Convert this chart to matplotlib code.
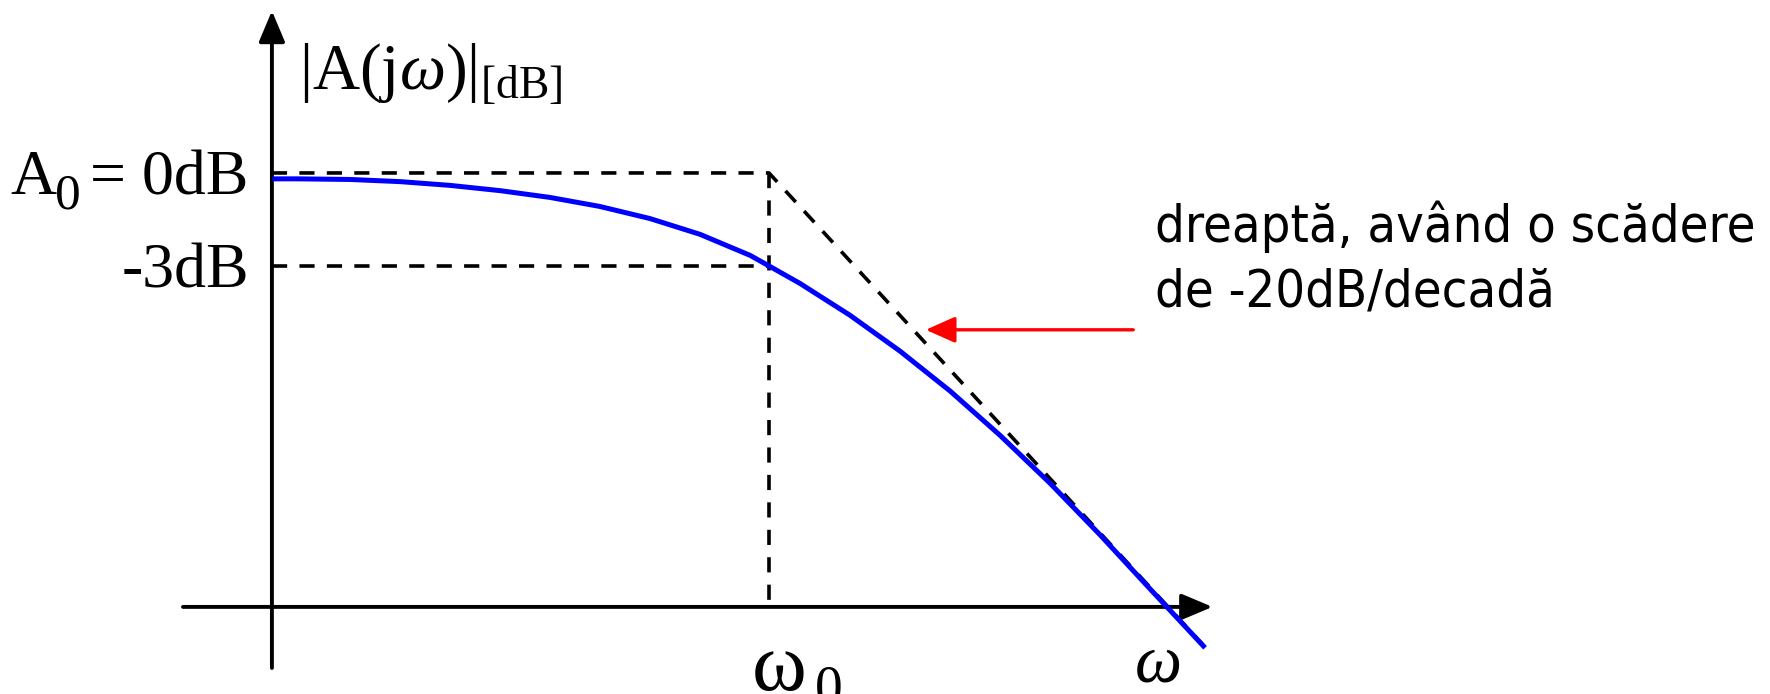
import matplotlib
matplotlib.use("Agg")
import matplotlib.pyplot as plt

# Frequency axis: log10(omega / omega0); vertical axis: gain in dB
omega_dec = [-0.871, -0.825, -0.735, -0.647, -0.560, -0.472, -0.384, -0.297,
             -0.209, -0.121, -0.033, 0.0, 0.054, 0.142, 0.230, 0.318,
             0.405, 0.493, 0.581, 0.668, 0.765]
gain_db = [-0.19, -0.19, -0.21, -0.28, -0.40, -0.57, -0.79, -1.08,
           -1.47, -1.98, -2.66, -3.0, -3.56, -4.59, -5.75, -7.04,
           -8.46, -10.01, -11.68, -13.41, -15.32]

# Asymptote: flat at A0, then -20 dB/decade beyond omega0
asym_dec = [-0.872, 0.0, 0.76]
asym_db = [0.0, 0.0, -15.2]

corner_db = -3.0
axis_x0 = -0.872          # position of the vertical axis
axis_y0 = -14.0           # position of the horizontal axis

plt.rcParams["mathtext.fontset"] = "custom"
plt.rcParams["mathtext.rm"] = "Liberation Serif"
plt.rcParams["mathtext.it"] = "Liberation Serif:italic"

fig = plt.figure(figsize=(17.7, 6.94), dpi=100)
ax = fig.add_axes([0, 0, 1, 1])
ax.set_xlim(-1.349, 1.756)
ax.set_ylim(-16.81, 5.58)
ax.axis("off")

axis_kw = dict(arrowstyle="-|>,head_length=1.9,head_width=0.8",
               mutation_scale=10, lw=2.8, color="black", shrinkA=0, shrinkB=0)
# vertical axis
ax.annotate("", xy=(axis_x0, 5.23), xytext=(axis_x0, -15.97), arrowprops=axis_kw)
# horizontal axis
ax.annotate("", xy=(0.778, axis_y0), xytext=(-1.028, axis_y0), arrowprops=axis_kw)

dash = (0, (4.2, 3.4))
ax.plot(asym_dec, asym_db, color="black", lw=2.6, linestyle=dash)
ax.plot([axis_x0, 0.0], [corner_db, corner_db], color="black", lw=2.6, linestyle=dash)
ax.plot([0.0, 0.0], [0.0, axis_y0], color="black", lw=2.6, linestyle=dash)

ax.plot(omega_dec, gain_db, color="#0000ff", lw=3.6, solid_capstyle="butt",
        solid_joinstyle="round", zorder=5)

# pointer to the asymptote
ax.annotate("", xy=(0.275, -5.06), xytext=(0.639, -5.06),
            arrowprops=dict(arrowstyle="-|>,head_length=1.8,head_width=0.8",
                            mutation_scale=10, lw=2.4, color="#ff0000",
                            shrinkA=0, shrinkB=0))

serif = "Liberation Serif"
# level labels on the vertical axis (large, lowered subscript)
ax.text(-1.330, -0.68, "A", family=serif, fontsize=46, ha="left", va="baseline")
ax.text(-1.253, -1.16, "0", family=serif, fontsize=37, ha="left", va="baseline")
ax.text(-0.914, -0.68, "= 0dB", family=serif, fontsize=46, ha="right", va="baseline")
ax.text(-0.912, -3.7, "-3dB", family=serif, fontsize=46, ha="right", va="baseline")
ax.text(-0.825, 2.70, r"$|\mathrm{A(j}\omega\mathrm{)}|_{\mathrm{[dB]}}$", fontsize=47,
        ha="left", va="baseline")

# frequency labels
ax.text(-0.030, -16.68, "ω", family=serif, fontsize=60, ha="left", va="baseline")
ax.text(0.080, -17.15, "0", family=serif, fontsize=40, ha="left", va="baseline")
ax.text(0.641, -16.4, r"$\omega$", fontsize=48, ha="left", va="baseline")
ax.text(1.19, 6.16, "(3.1)", family=serif, fontsize=40, ha="left", va="baseline")

sans = dict(family="DejaVu Sans", fontstretch="condensed", fontsize=37.5,
            ha="left", va="baseline")
ax.text(0.677, -2.23, "dreaptă, având o scădere", **sans)
ax.text(0.677, -4.32, "de -20dB/decadă", **sans)

fig.savefig("out.png", dpi=100)
